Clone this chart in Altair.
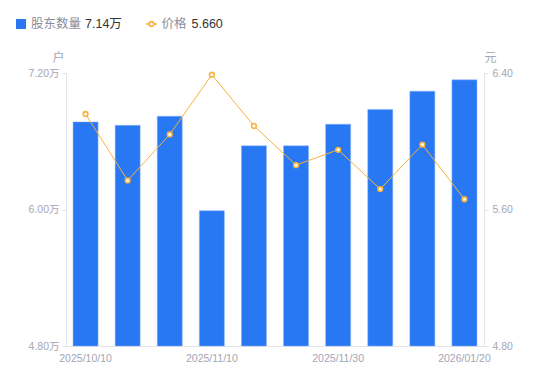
import altair as alt
import pandas as pd

dates = ["2025/10/10", "2025/10/20", "2025/10/31", "2025/11/10", "2025/11/20",
         "2025/11/25", "2025/11/30", "2025/12/10", "2025/12/31", "2026/01/20"]
holders = [6.77, 6.74, 6.82, 5.99, 6.56, 6.56, 6.75, 6.88, 7.04, 7.14]  # 万户
price = [6.16, 5.77, 6.04, 6.39, 6.09, 5.86, 5.95, 5.72, 5.98, 5.66]
shown_labels = ["2025/10/10", "2025/11/10", "2025/11/30", "2026/01/20"]
left_ticks = [4.8, 6.0, 7.2]
right_ticks = [4.8, 5.6, 6.4]

df = pd.DataFrame({"date": dates, "holders": holders, "price": price})

FONT = "Liberation Sans, Noto Sans CJK SC"
LABEL = "#a3a6b4"
AXISLINE = "#e3e4ea"
BLUE = "#2878f4"
ORANGE = "#f7b13c"
AXFS = 10.5

label_list = "[" + ",".join("'" + s + "'" for s in shown_labels) + "]"

x = alt.X("date:N", sort=None, title=None,
          scale=alt.Scale(paddingInner=0.405, paddingOuter=0.167),
          axis=alt.Axis(labelAngle=0, labelColor=LABEL, labelFontSize=AXFS, labelFont=FONT,
                        domainColor=AXISLINE, ticks=False, labelPadding=7,
                        labelExpr=f"indexof({label_list}, datum.value) >= 0 ? datum.value : ''"))

bars = alt.Chart(df).mark_bar(color=BLUE, stroke="#8fb6f7", strokeWidth=0.5).encode(
    x=x,
    y=alt.Y("holders:Q", scale=alt.Scale(domain=[4.8, 7.2], zero=False, nice=False),
            axis=alt.Axis(values=left_ticks, orient="left", grid=False, labelColor=LABEL,
                          labelFontSize=AXFS, labelFont=FONT, domainColor=AXISLINE,
                          tickColor=AXISLINE, tickSize=4, labelPadding=3,
                          labelExpr="format(datum.value, '.2f') + '万'",
                          title="户", titleAngle=0, titleX=-8, titleY=-16,
                          titleAlign="center", titleBaseline="middle",
                          titleColor=LABEL, titleFontWeight="normal", titleFontSize=12,
                          titleFont=FONT)),
    y2=alt.datum(4.8),
)

yp = alt.Y("price:Q", scale=alt.Scale(domain=[4.8, 6.4], zero=False, nice=False),
           axis=alt.Axis(values=right_ticks, orient="right", grid=False, labelColor=LABEL,
                         labelFontSize=AXFS, labelFont=FONT, domainColor=AXISLINE,
                         tickColor=AXISLINE, tickSize=4, labelPadding=4, format=".2f",
                         title="元", titleAngle=0, titleX=6, titleY=-16,
                         titleAlign="center", titleBaseline="middle",
                         titleColor=LABEL, titleFontWeight="normal", titleFontSize=12,
                         titleFont=FONT))

line = alt.Chart(df).mark_line(color=ORANGE, strokeWidth=1).encode(x=x, y=yp)
pts = alt.Chart(df).mark_point(shape="circle", size=22, filled=True, fill="white",
                               stroke=ORANGE, strokeWidth=1.6, opacity=1).encode(x=x, y=yp)
price_layer = alt.layer(line, pts)

# legend
LFS = 12.5
leg_df = pd.DataFrame({"k": [0]})
leg_sq = alt.Chart(leg_df).mark_square(color=BLUE, size=100, opacity=1).encode(
    x=alt.value(-45), y=alt.value(-49))
leg_t1 = alt.Chart(leg_df).mark_text(text="股东数量", align="left", baseline="middle",
                                     fontSize=LFS, font=FONT, color="#8b8e9b").encode(
    x=alt.value(-35), y=alt.value(-49))
leg_v1 = alt.Chart(leg_df).mark_text(text=f"{holders[-1]:.2f}万", align="left", baseline="middle",
                                     fontSize=LFS, font=FONT, color="#333333").encode(
    x=alt.value(19), y=alt.value(-49))
leg_ln = alt.Chart(leg_df).mark_rule(color=ORANGE, strokeWidth=1.5).encode(
    x=alt.value(80), x2=alt.value(91), y=alt.value(-49))
leg_pt = alt.Chart(leg_df).mark_point(shape="circle", size=22, filled=True, fill="white",
                                      stroke=ORANGE, strokeWidth=1.6, opacity=1).encode(
    x=alt.value(85.5), y=alt.value(-49))
leg_t2 = alt.Chart(leg_df).mark_text(text="价格", align="left", baseline="middle",
                                     fontSize=LFS, font=FONT, color="#8b8e9b").encode(
    x=alt.value(95.5), y=alt.value(-49))
leg_v2 = alt.Chart(leg_df).mark_text(text=f"{price[-1]:.3f}", align="left", baseline="middle",
                                     fontSize=LFS, font=FONT, color="#333333").encode(
    x=alt.value(125.5), y=alt.value(-49))

chart = alt.layer(bars, price_layer, leg_sq, leg_t1, leg_v1, leg_ln, leg_pt, leg_t2, leg_v2
                  ).resolve_scale(y="independent").properties(
    width=418, height=273,
    autosize=alt.AutoSizeParams(type="none"),
    padding={"left": 58, "top": 65, "right": 58, "bottom": 27},
).configure_view(stroke=None)

chart.save("out.html", embed_options={"renderer": "svg", "actions": False})
